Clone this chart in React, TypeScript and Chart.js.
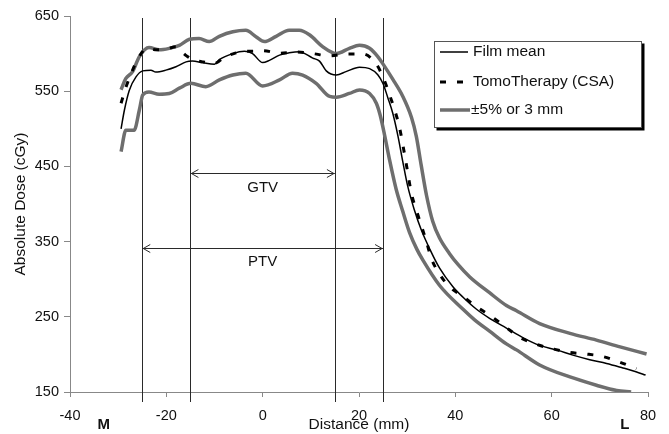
import React, { useEffect, useRef } from "react";
import { Chart, registerables } from "chart.js";

Chart.register(...registerables);

// ---- Data (distance in mm, dose in cGy) ----
const filmMeanX = [-29.4, -28.7, -27.7, -26.3, -24.9, -23.2, -22.2, -20.1, -18.0, -15.9, -14.6, -12.5, -10.0, -9.0, -6.2, -3.8, -2.1, 0.0, 1.4, 3.5, 5.5, 7.6, 10.4, 11.8, 13.2, 15.3, 17.3, 20.1, 22.2, 23.9, 25.0, 26.0, 27.0, 28.1, 29.1, 30.1, 31.5, 32.9, 34.7, 36.7, 39.5, 41.6, 44.4, 47.1, 50.6, 54.1, 57.5, 61.0, 64.4, 67.9, 71.4, 74.8, 77.5, 79.5];
const filmMeanY = [500, 525, 551, 569, 577, 578, 575.5, 578, 582.5, 589, 590, 588, 586, 592, 600, 603, 600, 588, 591, 598, 601, 602.5, 594, 590, 577, 571.5, 576, 582, 580, 572, 560, 541, 521, 490, 456, 424, 392, 366, 340, 315, 290, 276, 260, 248, 235, 222, 212, 206, 199, 193, 188, 182, 177, 172.5];

const tomoX = [-29.4, -28.4, -27.2, -26.0, -24.0, -22.0, -20.0, -18.0, -16.8, -15.8, -14.5, -12.5, -10.0, -8.0, -6.0, -3.5, -1.5, 0.0, 3.5, 7.0, 10.4, 13.9, 17.3, 20.8, 23.6, 25.1, 26.3, 27.5, 28.4, 29.6, 30.9, 32.0, 34.0, 35.0, 36.7, 38.8, 41.6, 44.7, 47.6, 50.5, 53.6, 57.0, 60.5, 63.8, 67.2, 70.7, 74.2, 77.6];
const tomoY = [534, 555, 575, 592, 607, 605, 606, 609, 602.5, 597, 592, 589, 587, 595, 600, 603, 603, 604, 600.5, 602, 600, 597, 599.5, 599.5, 586, 567, 546, 523, 502, 461, 414, 390, 350, 328, 307, 290, 277, 262, 250, 236, 222, 213, 207, 202.5, 200.5, 197, 189.5, 181];

const upperX = [-29.4, -28.4, -27.0, -25.6, -23.6, -21.5, -19.4, -17.3, -15.2, -13.2, -11.1, -9.0, -6.2, -3.5, -1.4, 0.35, 2.8, 5.5, 7.6, 9.7, 12.5, 14.6, 15.3, 18.0, 20.1, 22.2, 23.9, 25.0, 27.0, 29.1, 30.9, 31.9, 32.9, 34.0, 35.3, 36.7, 38.8, 40.5, 43.0, 47.1, 50.6, 52.7, 57.5, 63.8, 69.3, 74.2, 79.7];
const upperY = [552, 567, 576, 596, 608, 605, 607, 611, 619, 620, 616, 623, 629, 631, 622.5, 616, 623, 631, 631, 625, 609, 601, 600, 607, 611, 607, 596, 586, 566, 543, 515, 490, 452, 412, 377, 355, 334, 320, 303, 282, 265, 258, 241, 228, 219, 210, 200.5];

const lowerX = [-29.4, -28.4, -26.7, -25.6, -24.9, -23.6, -21.5, -19.4, -17.3, -14.9, -11.8, -9.0, -6.2, -3.5, 0.0, 3.5, 6.2, 8.3, 11.1, 13.9, 15.3, 18.0, 20.1, 22.2, 23.6, 24.4, 25.3, 26.3, 27.7, 29.1, 30.5, 32.0, 33.3, 36.7, 41.6, 44.0, 47.1, 50.6, 52.7, 57.5, 63.8, 69.3, 73.5, 76.5];
const lowerY = [469.6, 498, 498, 525, 545, 549, 546, 547, 554, 560.5, 556, 565, 571.5, 574, 557, 565, 574, 571.5, 560.5, 543, 542, 547, 551.6, 547, 534, 518, 492, 460, 420, 390, 362, 340, 325, 292, 260, 246, 231, 214, 206, 186, 170, 159, 152, 150];

const xTicks = [-40, -20, 0, 20, 40, 60, 80];
const yTicks = [150, 250, 350, 450, 550, 650];
const targetLines = [-25, -15, 15, 25];
const seriesLabels = ["Film mean", "TomoTherapy (CSA)", "±5% or 3 mm"];

const pts = (xs: number[], ys: number[]) => xs.map((x, i) => ({ x, y: ys[i] }));

const FONT = "'Liberation Sans', Arial, sans-serif";
const GRAY = "#6e6e6e";

const annotations = {
  id: "annotations",
  beforeDatasetsDraw(chart: any) {
    const { ctx, chartArea, scales } = chart;
    const xs = scales.x, ys = scales.y;
    ctx.save();
    ctx.strokeStyle = "#2a2a2a";
    ctx.lineWidth = 1;
    const top = ys.getPixelForValue(650) + 2;
    const bottom = chartArea.bottom + 10;
    targetLines.forEach((v) => {
      const px = Math.round(xs.getPixelForValue(v)) + 0.5;
      ctx.beginPath();
      ctx.moveTo(px, top);
      ctx.lineTo(px, bottom);
      ctx.stroke();
    });
    const arrow = (x1: number, x2: number, yv: number) => {
      const a = xs.getPixelForValue(x1);
      const b = xs.getPixelForValue(x2);
      const y = Math.round(ys.getPixelForValue(yv)) + 0.5;
      ctx.beginPath();
      ctx.moveTo(a, y);
      ctx.lineTo(b, y);
      ctx.moveTo(a + 8, y - 4);
      ctx.lineTo(a + 1, y);
      ctx.lineTo(a + 8, y + 4);
      ctx.moveTo(b - 8, y - 4);
      ctx.lineTo(b - 1, y);
      ctx.lineTo(b - 8, y + 4);
      ctx.stroke();
    };
    arrow(-15, 15, 441);
    arrow(-25, 25, 342);
    ctx.fillStyle = "#111";
    ctx.font = `15px ${FONT}`;
    ctx.textAlign = "center";
    ctx.textBaseline = "middle";
    ctx.fillText("GTV", xs.getPixelForValue(0), ys.getPixelForValue(421));
    ctx.fillText("PTV", xs.getPixelForValue(0), ys.getPixelForValue(323));
    ctx.restore();
  },
  afterDraw(chart: any) {
    const { ctx, chartArea, scales } = chart;
    const xs = scales.x;
    ctx.save();
    // M / L side markers
    ctx.fillStyle = "#111";
    ctx.font = `bold 15px ${FONT}`;
    ctx.textAlign = "center";
    ctx.textBaseline = "middle";
    ctx.fillText("M", xs.getPixelForValue(-33), chartArea.bottom + 33);
    ctx.fillText("L", xs.getPixelForValue(75.2), chartArea.bottom + 33);

    // Legend
    const bx = 434.5, by = 41.5, bw = 207, bh = 86;
    ctx.fillStyle = "#000";
    ctx.fillRect(bx + 2, by + 2, bw + 1, bh + 1);
    ctx.fillStyle = "#fff";
    ctx.fillRect(bx, by, bw, bh);
    ctx.strokeStyle = "#555";
    ctx.lineWidth = 1;
    ctx.strokeRect(bx, by, bw, bh);
    const rows = [52, 82, 110];
    const lx1 = 440, lx2 = 468;
    ctx.strokeStyle = "#000";
    ctx.lineWidth = 1.5;
    ctx.beginPath();
    ctx.moveTo(lx1, rows[0]);
    ctx.lineTo(lx2, rows[0]);
    ctx.stroke();
    ctx.lineWidth = 3;
    ctx.beginPath();
    ctx.moveTo(440, rows[1]);
    ctx.lineTo(446, rows[1]);
    ctx.moveTo(457, rows[1]);
    ctx.lineTo(463, rows[1]);
    ctx.stroke();
    ctx.strokeStyle = GRAY;
    ctx.lineWidth = 3.5;
    ctx.beginPath();
    ctx.moveTo(lx1, rows[2]);
    ctx.lineTo(470, rows[2]);
    ctx.stroke();
    ctx.fillStyle = "#111";
    ctx.font = `15.5px ${FONT}`;
    ctx.textAlign = "left";
    ctx.textBaseline = "middle";
    ctx.fillText(seriesLabels[0], 473, rows[0]);
    ctx.fillText(seriesLabels[1], 473, rows[1]);
    ctx.fillText(seriesLabels[2], 471, rows[2]);
    ctx.restore();
  },
};

export default function App() {
  const ref = useRef<HTMLCanvasElement | null>(null);
  useEffect(() => {
    if (!ref.current) return;
    const lineBase = { pointRadius: 0, cubicInterpolationMode: "monotone" as const, fill: false };
    const chart = new Chart(ref.current, {
      type: "line",
      data: {
        datasets: [
          { ...lineBase, label: seriesLabels[1], data: pts(tomoX, tomoY), borderColor: "#000", borderWidth: 3, borderDash: [6, 11] },
          { ...lineBase, label: seriesLabels[0], data: pts(filmMeanX, filmMeanY), borderColor: "#000", borderWidth: 1.5 },
          { ...lineBase, label: seriesLabels[2], data: pts(upperX, upperY), borderColor: GRAY, borderWidth: 3.5 },
          { ...lineBase, label: seriesLabels[2] + " (lower)", data: pts(lowerX, lowerY), borderColor: GRAY, borderWidth: 3.5 },
        ],
      },
      options: {
        responsive: true,
        maintainAspectRatio: false,
        animation: false,
        layout: { padding: { left: 0, top: 16, right: 21, bottom: 0 } },
        plugins: { legend: { display: false }, tooltip: { enabled: false } },
        scales: {
          x: {
            type: "linear",
            min: -40,
            max: 80,
            afterFit: (s: any) => { s.height = 42; },
            afterBuildTicks: (s: any) => { s.ticks = xTicks.map((v) => ({ value: v })); },
            ticks: { stepSize: 20, color: "#111", font: { family: FONT, size: 14.5 }, padding: 10, maxRotation: 0 },
            grid: { drawOnChartArea: false, drawTicks: true, tickLength: 5, tickColor: "#888" },
            border: { display: true, color: "#888", width: 1 },
            title: { display: true, text: "Distance (mm)", color: "#111", font: { family: FONT, size: 15.5 }, padding: { top: 0, bottom: 0 } },
          },
          y: {
            type: "linear",
            min: 150,
            max: 650,
            afterFit: (s: any) => { s.width = 70; },
            afterBuildTicks: (s: any) => { s.ticks = yTicks.map((v) => ({ value: v })); },
            ticks: { stepSize: 100, color: "#111", font: { family: FONT, size: 14.5 }, padding: 5 },
            grid: { drawOnChartArea: false, drawTicks: true, tickLength: 6, tickColor: "#888" },
            border: { display: true, color: "#888", width: 1 },
            title: { display: true, text: "Absolute Dose (cGy)", color: "#111", font: { family: FONT, size: 15.5 }, padding: { top: 11, bottom: 0 } },
          },
        },
      },
      plugins: [annotations],
    });
    return () => chart.destroy();
  }, []);
  return (
    <div style={{ position: "fixed", left: 0, top: 0, width: 669, height: 434, background: "#fff" }}>
      <canvas ref={ref} />
    </div>
  );
}
